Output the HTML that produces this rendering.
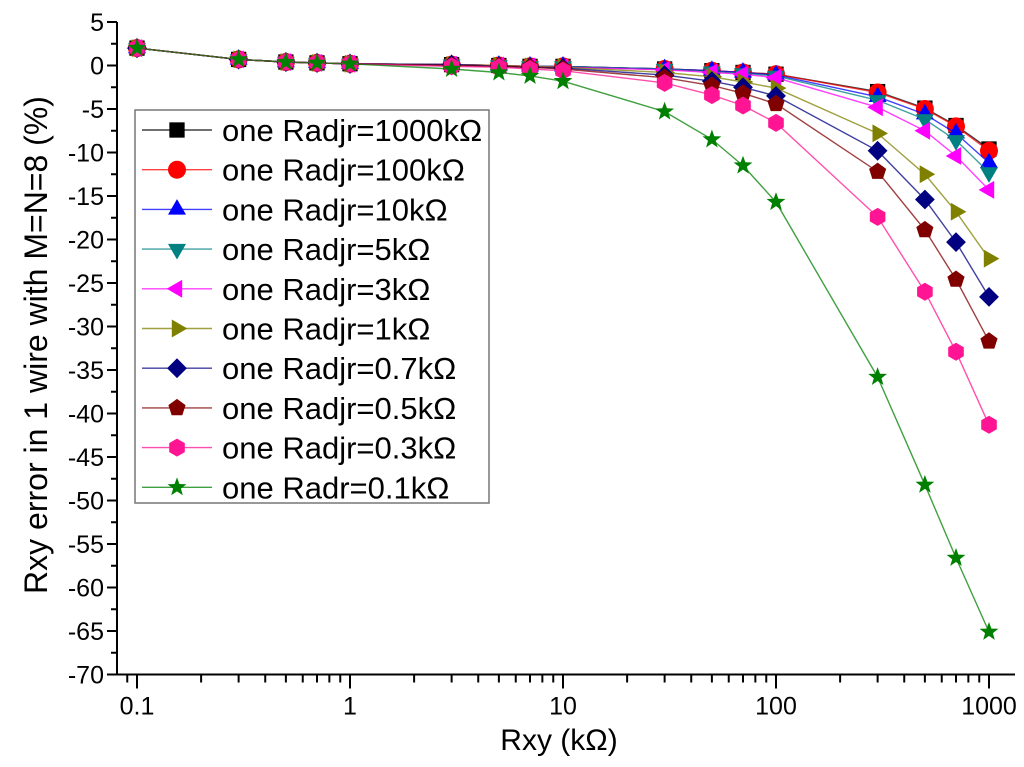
<!DOCTYPE html>
<html><head><meta charset="utf-8">
<style>
html,body{margin:0;padding:0;background:#fff;}
svg{display:block;font-family:"Liberation Sans",Arial,sans-serif;}
</style></head>
<body>
<svg id="chart" width="1024" height="767" viewBox="0 0 1024 767" xmlns="http://www.w3.org/2000/svg">
<g id="axes"></g>
<g id="series"></g>
<g id="legend"></g>
<text x="0" y="0" transform="translate(47,345) rotate(-90)" text-anchor="middle" font-size="32">Rxy error in 1 wire with M=N=8 (%)</text>
<text x="559" y="750" text-anchor="middle" font-size="30">Rxy (kΩ)</text>
</svg>
<script>
const xValues = [0.1,0.3,0.5,0.7,1,3,5,7,10,30,50,70,100,300,500,700,1000];
const yTicks = [5,0,-5,-10,-15,-20,-25,-30,-35,-40,-45,-50,-55,-60,-65,-70];
const xTickLabels = ["0.1","1","10","100","1000"];
const seriesNames = ["one Radjr=1000kΩ","one Radjr=100kΩ","one Radjr=10kΩ","one Radjr=5kΩ","one Radjr=3kΩ","one Radjr=1kΩ","one Radjr=0.7kΩ","one Radjr=0.5kΩ","one Radjr=0.3kΩ","one Radr=0.1kΩ"];
const s1000k = [2,0.7,0.4,0.3,0.2,0.1,0,-0.1,-0.1,-0.4,-0.6,-0.8,-1.0,-3.0,-4.9,-6.9,-9.6];
const s100k  = [2,0.7,0.4,0.3,0.2,0.1,0,-0.1,-0.1,-0.4,-0.6,-0.8,-1.0,-3.1,-5.0,-7.0,-9.8];
const s10k   = [2,0.7,0.4,0.3,0.2,0.1,0,-0.1,-0.1,-0.4,-0.6,-0.8,-1.1,-3.6,-5.6,-7.8,-11.2];
const s5k    = [2,0.7,0.4,0.3,0.2,0.1,0,-0.1,-0.1,-0.4,-0.7,-0.9,-1.2,-4.0,-6.2,-8.6,-12.3];
const s3k    = [2,0.7,0.4,0.3,0.2,0.1,0,-0.1,-0.2,-0.5,-0.8,-1.0,-1.4,-4.8,-7.5,-10.4,-14.3];
const s1k    = [2,0.7,0.4,0.3,0.2,0.1,0,-0.1,-0.2,-0.8,-1.3,-1.9,-2.6,-7.8,-12.5,-16.8,-22.2];
const s07k   = [2,0.7,0.4,0.3,0.2,0.1,-0.1,-0.2,-0.3,-1.1,-1.8,-2.5,-3.5,-9.8,-15.4,-20.3,-26.6];
const s05k   = [2,0.7,0.4,0.3,0.2,0.0,-0.1,-0.2,-0.4,-1.4,-2.3,-3.2,-4.4,-12.2,-18.9,-24.6,-31.7];
const s03k   = [2,0.7,0.4,0.3,0.2,-0.1,-0.2,-0.4,-0.6,-2.0,-3.4,-4.6,-6.6,-17.4,-26.0,-32.9,-41.3];
const s01k   = [2,0.7,0.4,0.3,0.2,-0.4,-0.8,-1.2,-1.8,-5.3,-8.5,-11.5,-15.7,-35.8,-48.2,-56.6,-65.1];
const allSeries = [s1000k,s100k,s10k,s5k,s3k,s1k,s07k,s05k,s03k,s01k];
const colors = ["#000000","#ff0000","#0000ff","#008080","#ff00ff","#808000","#000080","#800000","#ff1493","#008000"];
const shapes = ["square","circle","up","down","left","right","diamond","pentagon","hexagon","star"];

const NS="http://www.w3.org/2000/svg";
const X0=137, DEC=213, Y0=65.5, YS=8.7;
const xS = v => X0 + Math.log10(v/0.1)*DEC;
const yS = v => Y0 - v*YS;
function mk(tag, attrs, parent){const e=document.createElementNS(NS,tag);for(const k in attrs)e.setAttribute(k,attrs[k]);parent.appendChild(e);return e;}

const axes=document.getElementById('axes');
const axL=117, axR=1015, axB=yS(-70), axT=yS(5);
let e;
e=mk('line',{x1:axL,y1:axT,x2:axL,y2:axB,stroke:'#000','stroke-width':2},axes);


e=mk('line',{x1:axL,y1:axB,x2:axR,y2:axB,stroke:'#000','stroke-width':2},axes);


yTicks.forEach(v=>{
  const y=yS(v);
  mk('line',{x1:axL-10,y1:y,x2:axL,y2:y,stroke:'#000','stroke-width':2},axes);
  if(v>-70){mk('line',{x1:axL-6,y1:yS(v-2.5),x2:axL,y2:yS(v-2.5),stroke:'#000','stroke-width':2},axes);}
  const t=mk('text',{x:axL-13,y:y+9,'text-anchor':'end','font-size':25},axes);
  t.textContent=v;
  
  
});
const decades=[0.01,0.1,1,10,100,1000];
decades.forEach(d=>{
  for(let m=1;m<10;m++){
    const v=d*m, x=xS(v);
    if(x<axL||x>axR) continue;
    mk('line',{x1:x,y1:axB,x2:x,y2:axB+(m===1?14:8),stroke:'#000','stroke-width':2},axes);
  }
});
xTickLabels.forEach(s=>{
  const t=mk('text',{x:xS(parseFloat(s)),y:axB+40,'text-anchor':'middle','font-size':25},axes);
  t.textContent=s;
  
  
});

function marker(shape,cx,cy,r,color,parent){
  const poly=(n,rot,rr)=>{let p=[];for(let i=0;i<n;i++){const a=rot+i*2*Math.PI/n;p.push((cx+rr*Math.cos(a)).toFixed(1)+','+(cy+rr*Math.sin(a)).toFixed(1));}return p.join(' ');};
  switch(shape){
    case 'square': return mk('rect',{x:cx-r*0.85,y:cy-r*0.85,width:r*1.7,height:r*1.7,fill:color},parent);
    case 'circle': return mk('circle',{cx:cx,cy:cy,r:r,fill:color},parent);
    case 'up': return mk('polygon',{points:poly(3,-Math.PI/2,r*1.15),fill:color},parent);
    case 'down': return mk('polygon',{points:poly(3,Math.PI/2,r*1.15),fill:color},parent);
    case 'left': return mk('polygon',{points:poly(3,Math.PI,r*1.15),fill:color},parent);
    case 'right': return mk('polygon',{points:poly(3,0,r*1.15),fill:color},parent);
    case 'diamond': return mk('polygon',{points:poly(4,0,r*1.1),fill:color},parent);
    case 'pentagon': return mk('polygon',{points:poly(5,-Math.PI/2,r),fill:color},parent);
    case 'hexagon': return mk('polygon',{points:poly(6,Math.PI/2,r),fill:color},parent);
    case 'star': {let p=[];for(let i=0;i<10;i++){const a=-Math.PI/2+i*Math.PI/5;const rr=i%2?r*0.45:r*1.1;p.push((cx+rr*Math.cos(a)).toFixed(1)+','+(cy+rr*Math.sin(a)).toFixed(1));}return mk('polygon',{points:p.join(' '),fill:color},parent);}
  }
}

const sg=document.getElementById('series');
allSeries.forEach((vals,i)=>{
  const g=mk('g',{},sg);
  
  
  const pts=vals.map((v,j)=>xS(xValues[j]).toFixed(1)+','+yS(v).toFixed(1)).join(' ');
  mk('polyline',{points:pts,fill:'none',stroke:colors[i],'stroke-width':1.4,'stroke-opacity':0.75},g);
  vals.forEach((v,j)=>{
    const m=marker(shapes[i],xS(xValues[j]),yS(v),9,colors[i],g);
    
    
  });
});

const lg=document.getElementById('legend');
e=mk('rect',{x:135,y:110,width:354,height:393,fill:'#fff',stroke:'#777','stroke-width':1.5},lg);


seriesNames.forEach((n,i)=>{
  const y=130+i*39.7;
  const g=mk('g',{},lg);
  
  
  mk('line',{x1:142,y1:y,x2:212,y2:y,stroke:colors[i],'stroke-width':1.4,'stroke-opacity':0.75},g);
  marker(shapes[i],177,y,9,colors[i],g);
  const t=mk('text',{x:222,y:y+11,'font-size':31},g);
  t.textContent=n;
});
</script>
</body></html>
